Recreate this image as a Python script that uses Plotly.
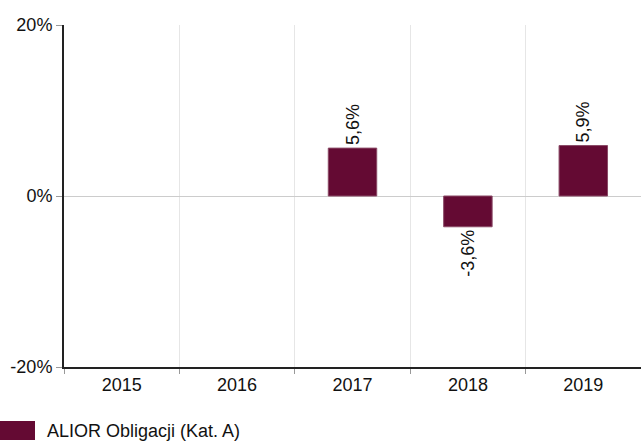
import plotly.graph_objects as go

years = ["2015", "2016", "2017", "2018", "2019"]
values = [None, None, 5.6, -3.6, 5.9]
labels = ["", "", "5,6%", "-3,6%", "5,9%"]
series_name = "ALIOR Obligacji (Kat. A)"
y_ticks = [-20, 0, 20]
y_ticklabels = ["-20%", "0%", "20%"]

color = "#640a33"
font = "Liberation Sans, Arial, sans-serif"

L, R, T, B = 64, 0, 25, 74
PW, PH = 641 - L - R, 441 - T - B

fig = go.Figure()
fig.add_trace(go.Bar(
    x=years, y=values, text=labels, name=series_name,
    marker=dict(color=color, line=dict(color="#8a4a66", width=1)),
    textposition="outside", textangle=-90, cliponaxis=False,
    textfont=dict(family=font, size=18, color="#111111"),
    width=0.42, showlegend=False,
))

fig.update_layout(
    width=641, height=441,
    margin=dict(l=L, r=R, t=T, b=B),
    paper_bgcolor="white", plot_bgcolor="white",
    font=dict(family=font, size=18, color="#111111"),
    xaxis=dict(
        type="category", tickson="boundaries", showgrid=True, gridcolor="#e6e6e6",
        showline=True, linecolor="#222222", linewidth=2, ticks="outside",
        ticklen=5, tickcolor="#999999", tickfont=dict(size=18), range=[-0.5, 4.5],
    ),
    yaxis=dict(
        range=[-20, 20], tickvals=y_ticks, ticktext=y_ticklabels,
        showgrid=True, gridcolor="#d0d0d0", zeroline=True, zerolinecolor="#cccccc",
        zerolinewidth=1, showline=True, linecolor="#222222", linewidth=2,
        ticks="outside", ticklen=6, tickcolor="#999999", tickfont=dict(size=18),
    ),
)

fig.add_shape(type="rect", xref="paper", yref="paper",
              x0=-L/PW, x1=(35-L)/PW, y0=-(421-367)/PH, y1=-(440-367)/PH,
              fillcolor=color, line=dict(width=0))
fig.add_annotation(xref="paper", yref="paper", x=(45-L)/PW, y=-(431-367)/PH,
                   text=series_name, showarrow=False, xanchor="left", yanchor="middle",
                   font=dict(family=font, size=18, color="#111111"))

fig.write_html("out.html", config={"displayModeBar": False},
               post_script="document.body.style.margin='0';")
